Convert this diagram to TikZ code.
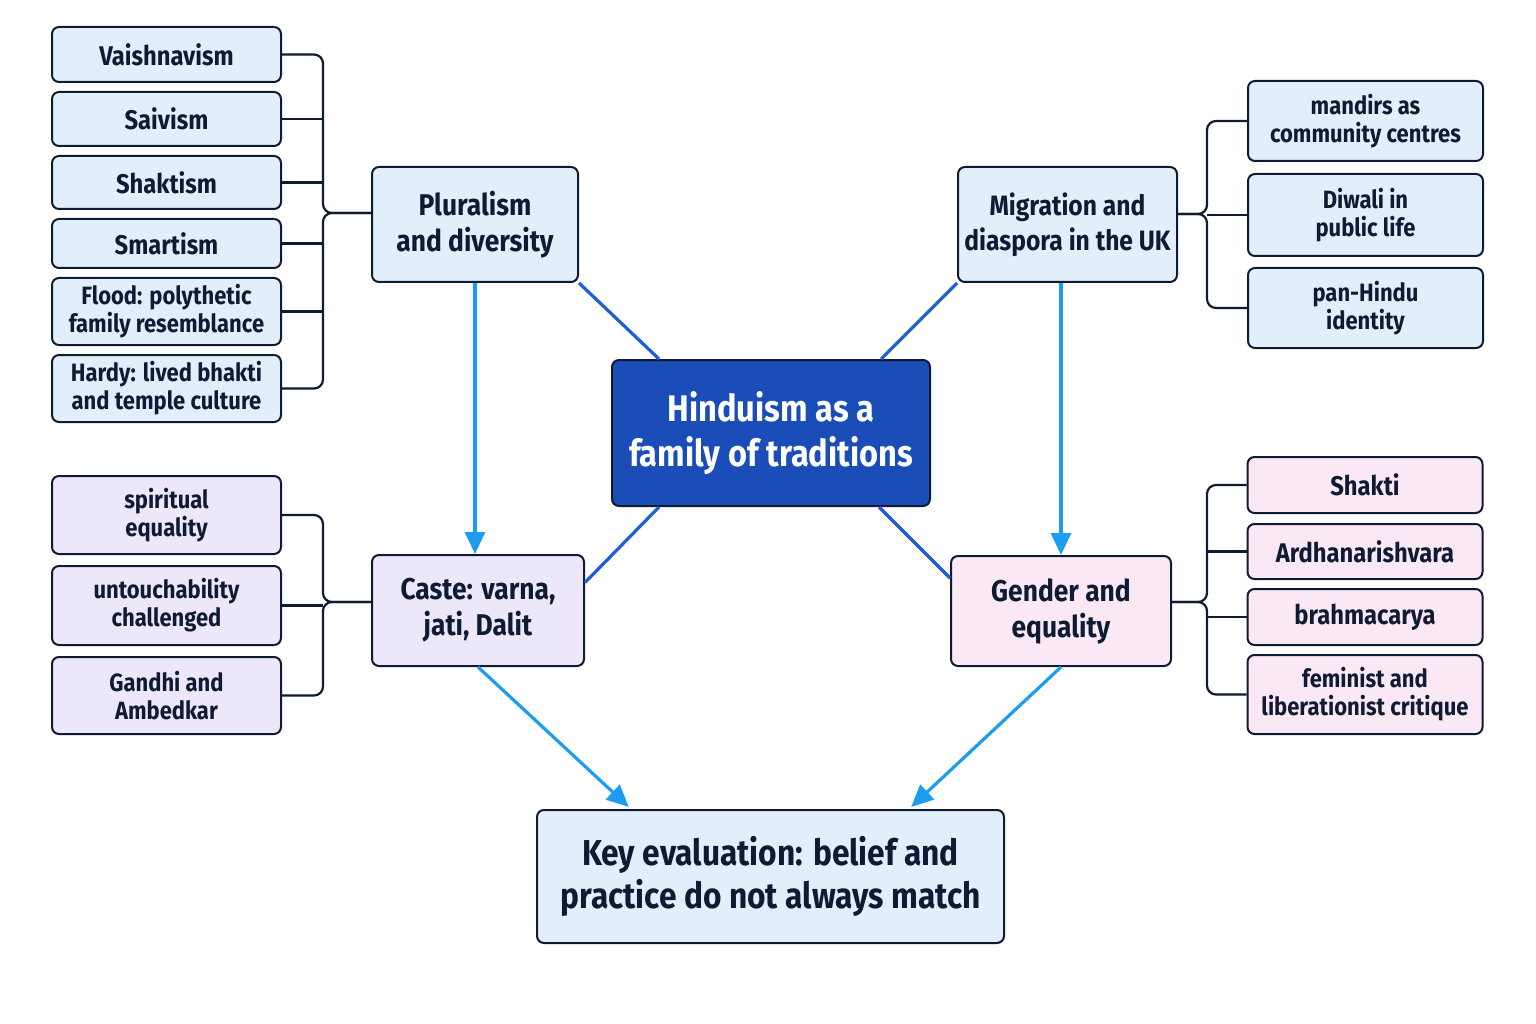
\documentclass[tikz,border=0pt]{standalone}
\usepackage{fontspec}
\setmainfont{Fira Sans}[FakeStretch=0.88]
\usetikzlibrary{arrows.meta,positioning,calc}
\definecolor{navy}{HTML}{0F1B33}
\definecolor{fillblue}{HTML}{E2EFFB}
\definecolor{filllav}{HTML}{ECE8FA}
\definecolor{fillpink}{HTML}{FBE8F5}
\definecolor{hubfill}{HTML}{1A4DB8}
\definecolor{hubline}{HTML}{1F5ED6}
\definecolor{arrblue}{HTML}{1C9DF2}
\tikzset{
  box/.style={draw=navy, line width=2pt, rounded corners=7pt, align=center, text=navy,
    inner sep=0pt, font=\bfseries\fontsize{25}{28}\selectfont},
  one/.style={font=\bfseries\fontsize{27}{28}\selectfont},
  leafL/.style={box, minimum width=229pt},
  leafR/.style={box, minimum width=235pt},
  big/.style={box, font=\bfseries\fontsize{30}{36}\selectfont},
  br/.style={draw=navy, line width=2.2pt, rounded corners=9pt},
  hub/.style={draw=hubline, line width=3.2pt},
  arr/.style={draw=arrblue, line width=3.2pt, -{Triangle[width=20pt,length=22pt]}},
}
\begin{document}
\begin{tikzpicture}[x=1pt,y=-1pt]
\useasboundingbox[fill=white] (0,0) rectangle (1536,1024);

% left top leaves
\node[leafL, one, fill=fillblue, minimum height=55pt] (lb1) at (166.5,54.5) {Vaishnavism};
\node[leafL, one, fill=fillblue, minimum height=54pt] (lb2) at (166.5,119) {Saivism};
\node[leafL, one, fill=fillblue, minimum height=53pt] (lb3) at (166.5,182.5) {Shaktism};
\node[leafL, one, fill=fillblue, minimum height=49pt] (lb4) at (166.5,243.5) {Smartism};
\node[leafL, fill=fillblue, minimum height=67pt] (lb5) at (166.5,311.5) {Flood: polythetic\\family resemblance};
\node[leafL, fill=fillblue, minimum height=67pt] (lb6) at (166.5,388.5) {Hardy: lived bhakti\\and temple culture};

% main boxes
\node[big, fill=fillblue, minimum width=206pt, minimum height=115pt] (plural) at (475,224.5) {Pluralism\\and diversity};
\node[big, fill=fillblue, minimum width=219pt, minimum height=115pt,
      font=\bfseries\fontsize{28}{35}\selectfont] (migr) at (1067.5,224.5) {Migration and\\diaspora in the UK};
\node[box, fill=hubfill, text=white, minimum width=318pt, minimum height=146pt,
      font=\bfseries\fontsize{37}{45}\selectfont] (center) at (771,433) {Hinduism as a\\family of traditions};
\node[big, fill=filllav, minimum width=212pt, minimum height=111pt] (caste) at (478,610.5) {Caste: varna,\\jati, Dalit};
\node[big, fill=fillpink, minimum width=220pt, minimum height=110pt] (gender) at (1061,611) {Gender and\\equality};
\node[box, fill=fillblue, minimum width=467pt, minimum height=133pt,
      font=\bfseries\fontsize{36}{43}\selectfont] (key) at (770.5,876.5) {Key evaluation: belief and\\practice do not always match};

% right top leaves
\node[leafR, fill=fillblue, minimum height=80pt] (rt1) at (1365.5,121) {mandirs as\\community centres};
\node[leafR, fill=fillblue, minimum height=82pt] (rt2) at (1365.5,215) {Diwali in\\public life};
\node[leafR, fill=fillblue, minimum height=80pt] (rt3) at (1365.5,308) {pan-Hindu\\identity};

% left bottom leaves
\node[leafL, fill=filllav, minimum height=78pt] (lc1) at (166.5,515) {spiritual\\equality};
\node[leafL, fill=filllav, minimum height=79pt] (lc2) at (166.5,605.5) {untouchability\\challenged};
\node[leafL, fill=filllav, minimum height=77pt] (lc3) at (166.5,695.5) {Gandhi and\\Ambedkar};

% right bottom leaves
\node[leafR, one, fill=fillpink, minimum height=56pt] (rg1) at (1365,485) {Shakti};
\node[leafR, one, fill=fillpink, minimum height=55pt] (rg2) at (1365,551.5) {Ardhanarishvara};
\node[leafR, one, fill=fillpink, minimum height=56pt] (rg3) at (1365,617) {brahmacarya};
\node[leafR, fill=fillpink, minimum height=79pt] (rg4) at (1365,694.5) {feminist and\\liberationist critique};

% junction coordinates
\coordinate (jA) at (323,213);
\coordinate (jB) at (1207,214);
\coordinate (jC) at (323,602);
\coordinate (jD) at (1207,602);

% bracket A
\draw[br] (lb1.east) -| (jA) -- (plural.west |- jA);
\draw[br] (lb6.east) -| (jA) -- (plural.west |- jA);
\foreach \n in {lb2,lb3,lb4,lb5} \draw[br] (\n.east) -- (\n.east -| jA);
% bracket B
\draw[br] (rt1.west) -| (jB) -- (migr.east |- jB);
\draw[br] (rt3.west) -| (jB) -- (migr.east |- jB);
\draw[br] (rt2.west) -- (rt2.west -| jB);
% bracket C
\draw[br] (lc1.east) -| (jC) -- (caste.west |- jC);
\draw[br] (lc3.east) -| (jC) -- (caste.west |- jC);
\draw[br] (lc2.east) -- (lc2.east -| jC);
% bracket D
\draw[br] (rg1.west) -| (jD) -- (gender.east |- jD);
\draw[br] (rg4.west) -| (jD) -- (gender.east |- jD);
\foreach \n in {rg2,rg3} \draw[br] (\n.west) -- (\n.west -| jD);

% hub lines
\draw[hub] (plural.south east) -- ([xshift=48pt]center.north west);
\draw[hub] (migr.south west) -- ([xshift=-50pt]center.north east);
\draw[hub] ([yshift=28pt]caste.east) -- ([xshift=48pt]center.south west);
\draw[hub] ([yshift=33pt]gender.west) -- ([xshift=-52pt]center.south east);

% arrows
\draw[arr] (plural.south) -- (plural.south |- caste.north);
\draw[arr] (gender.north |- migr.south) -- (gender.north);
\draw[arr, shorten >=3pt] (caste.south) -- ([xshift=95pt]key.north west);
\draw[arr, shorten >=3pt] (gender.south) -- ([xshift=-96pt]key.north east);
\end{tikzpicture}
\end{document}
